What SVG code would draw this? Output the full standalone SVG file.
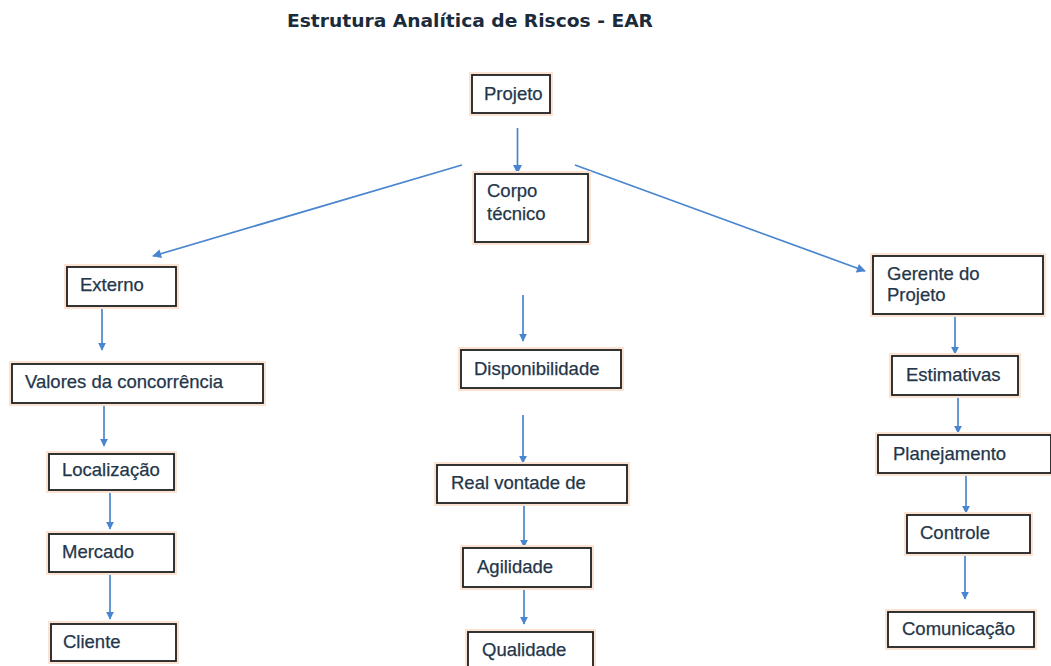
<svg xmlns="http://www.w3.org/2000/svg" width="1051" height="666" viewBox="0 0 1051 666">
<style>
.bx{fill:#fff;stroke:#1e1e1e;stroke-width:1.8}
.halo{fill:none;stroke:#fbe3d4;stroke-width:6}
.t{font-family:"Liberation Sans",Arial,sans-serif;font-size:18.5px;fill:#24364a;stroke:#24364a;stroke-width:0.25}
.ttl{font-family:"DejaVu Sans",Verdana,sans-serif;font-weight:bold;font-size:18px;fill:#1b2b3b}
.c{stroke:#4a86cf;stroke-width:1.7;fill:none;marker-end:url(#ah)}
</style>
<defs>
<marker id="ah" viewBox="0 0 10 10" refX="9" refY="5" markerWidth="8" markerHeight="8" markerUnits="userSpaceOnUse" orient="auto">
<path d="M0,0 L10,5 L0,10 z" fill="#4a86cf"/>
</marker>
<marker id="ah2" viewBox="0 0 10 10" refX="9" refY="5" markerWidth="10" markerHeight="9" markerUnits="userSpaceOnUse" orient="auto">
<path d="M0,0 L10,5 L0,10 z" fill="#4a86cf"/>
</marker>
</defs>
<rect width="1051" height="666" fill="#fff"/>
<text class="ttl" x="287" y="27" textLength="366" lengthAdjust="spacingAndGlyphs">Estrutura Analítica de Riscos - EAR</text>

<g id="connectors">
<line class="c" x1="517.5" y1="128" x2="517.5" y2="173" style="marker-end:url(#ah2)"/>
<line class="c" x1="462" y1="165" x2="153" y2="256" style="marker-end:url(#ah2)"/>
<line class="c" x1="575" y1="165" x2="865" y2="271" style="marker-end:url(#ah2)"/>
<line class="c" x1="102" y1="306" x2="102" y2="350"/>
<line class="c" x1="104" y1="403" x2="104" y2="446"/>
<line class="c" x1="110" y1="483" x2="110" y2="529"/>
<line class="c" x1="110" y1="572" x2="110" y2="619"/>
<line class="c" x1="523" y1="295" x2="523" y2="341"/>
<line class="c" x1="523" y1="415" x2="523" y2="463"/>
<line class="c" x1="524" y1="503" x2="524" y2="547"/>
<line class="c" x1="524" y1="582" x2="524" y2="624"/>
<line class="c" x1="955" y1="314" x2="955" y2="354"/>
<line class="c" x1="958" y1="390" x2="958" y2="433"/>
<line class="c" x1="966" y1="473" x2="966" y2="513"/>
<line class="c" x1="965" y1="553" x2="965" y2="599"/>
</g>

<g id="projeto"><rect class="halo" x="472" y="75" width="78" height="38"/><rect class="bx" x="472" y="75" width="78" height="38"/><text class="t" x="484" y="100">Projeto</text></g>
<g id="corpo"><rect class="halo" x="475" y="174" width="113" height="68"/><rect class="bx" x="475" y="174" width="113" height="68"/><text class="t" x="487" y="197">Corpo</text><text class="t" x="487" y="220">técnico</text></g>

<g id="externo"><rect class="halo" x="67" y="267" width="109" height="39"/><rect class="bx" x="67" y="267" width="109" height="39"/><text class="t" x="80" y="291">Externo</text></g>
<g id="valores"><rect class="halo" x="12" y="364" width="251" height="39"/><rect class="bx" x="12" y="364" width="251" height="39"/><text class="t" x="25" y="388">Valores da concorrência</text></g>
<g id="localizacao"><rect class="halo" x="49" y="454" width="125" height="36"/><rect class="bx" x="49" y="454" width="125" height="36"/><text class="t" x="62" y="476">Localização</text></g>
<g id="mercado"><rect class="halo" x="49" y="534" width="125" height="38"/><rect class="bx" x="49" y="534" width="125" height="38"/><text class="t" x="62" y="558">Mercado</text></g>
<g id="cliente"><rect class="halo" x="51" y="624" width="125" height="37"/><rect class="bx" x="51" y="624" width="125" height="37"/><text class="t" x="63" y="648">Cliente</text></g>

<g id="disponibilidade"><rect class="halo" x="461" y="350" width="160" height="38"/><rect class="bx" x="461" y="350" width="160" height="38"/><text class="t" x="474" y="375">Disponibilidade</text></g>
<g id="realvontade"><rect class="halo" x="437" y="465" width="190" height="38"/><rect class="bx" x="437" y="465" width="190" height="38"/><text class="t" x="451" y="489">Real vontade de</text></g>
<g id="agilidade"><rect class="halo" x="463" y="548" width="128" height="39"/><rect class="bx" x="463" y="548" width="128" height="39"/><text class="t" x="477" y="573">Agilidade</text></g>
<g id="qualidade"><rect class="halo" x="468" y="632" width="125" height="40"/><rect class="bx" x="468" y="632" width="125" height="40"/><text class="t" x="482" y="656">Qualidade</text></g>

<g id="gerente"><rect class="halo" x="873" y="256" width="170" height="58"/><rect class="bx" x="873" y="256" width="170" height="58"/><text class="t" x="887" y="280">Gerente do</text><text class="t" x="887" y="301">Projeto</text></g>
<g id="estimativas"><rect class="halo" x="892" y="356" width="126" height="39"/><rect class="bx" x="892" y="356" width="126" height="39"/><text class="t" x="906" y="381">Estimativas</text></g>
<g id="planejamento"><rect class="halo" x="878" y="435" width="173" height="38"/><rect class="bx" x="878" y="435" width="173" height="38"/><text class="t" x="893" y="460">Planejamento</text></g>
<g id="controle"><rect class="halo" x="907" y="515" width="123" height="38"/><rect class="bx" x="907" y="515" width="123" height="38"/><text class="t" x="920" y="539">Controle</text></g>
<g id="comunicacao"><rect class="halo" x="888" y="612" width="146" height="35"/><rect class="bx" x="888" y="612" width="146" height="35"/><text class="t" x="902" y="635">Comunicação</text></g>
</svg>
